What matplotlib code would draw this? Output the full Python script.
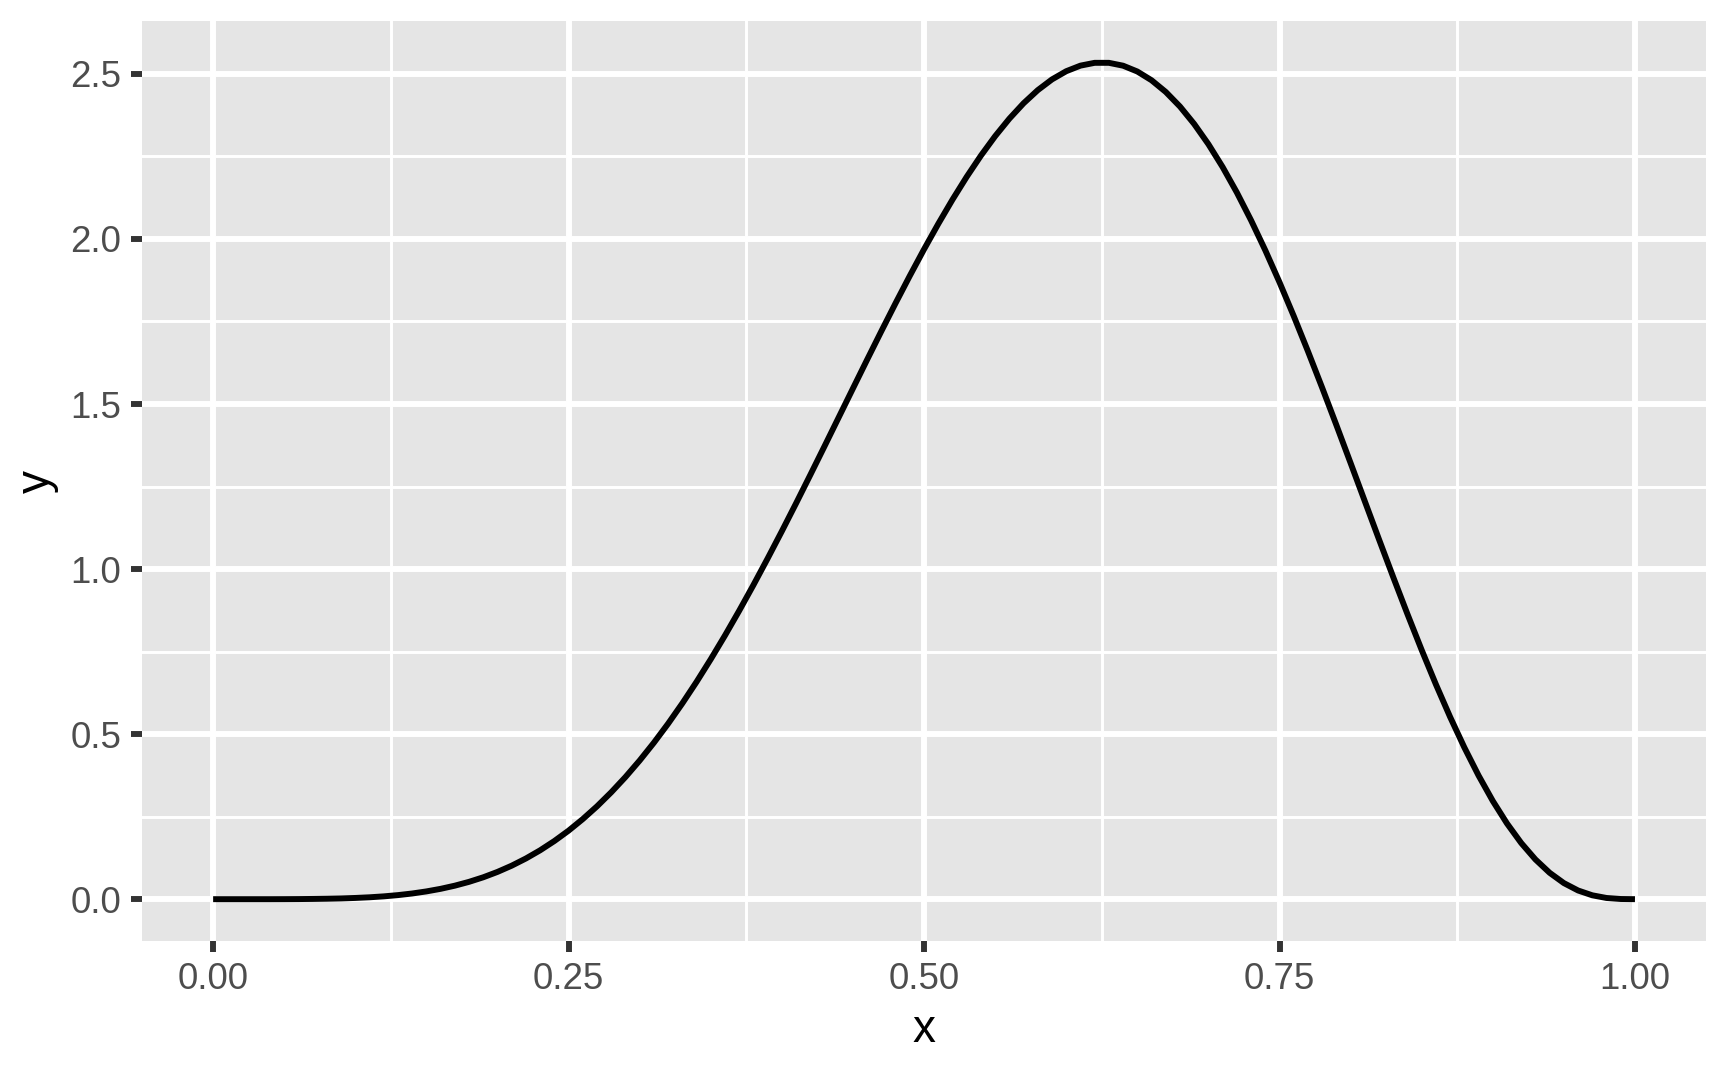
import matplotlib
matplotlib.use("Agg")
import matplotlib.pyplot as plt
from matplotlib.ticker import FixedLocator

x_vals = [round(i * 0.01, 2) for i in range(101)]
y_vals = [0.0000, 0.0000, 0.0000, 0.0000, 0.0000, 0.0001, 0.0003, 0.0007, 0.0013, 0.0022,
          0.0037, 0.0057, 0.0085, 0.0123, 0.0172, 0.0235, 0.0313, 0.0409, 0.0525, 0.0663,
          0.0826, 0.1015, 0.1233, 0.1481, 0.1762, 0.2076, 0.2427, 0.2813, 0.3238, 0.3700,
          0.4201, 0.4740, 0.5317, 0.5932, 0.6583, 0.7270, 0.7989, 0.8739, 0.9517, 1.0322,
          1.1148, 1.1992, 1.2852, 1.3721, 1.4597, 1.5473, 1.6346, 1.7209, 1.8057, 1.8885,
          1.9688, 2.0458, 2.1192, 2.1883, 2.2525, 2.3114, 2.3644, 2.4111, 2.4509, 2.4834,
          2.5082, 2.5251, 2.5336, 2.5336, 2.5249, 2.5073, 2.4808, 2.4454, 2.4012, 2.3483,
          2.2871, 2.2178, 2.1408, 2.0565, 1.9657, 1.8688, 1.7666, 1.6598, 1.5494, 1.4362,
          1.3212, 1.2054, 1.0897, 0.9754, 0.8634, 0.7547, 0.6506, 0.5519, 0.4596, 0.3746,
          0.2976, 0.2293, 0.1701, 0.1203, 0.0799, 0.0487, 0.0263, 0.0117, 0.0036, 0.0005,
          0.0000]

x_ticks = [0.00, 0.25, 0.50, 0.75, 1.00]
x_tick_labels = ["0.00", "0.25", "0.50", "0.75", "1.00"]
x_minor = [0.125, 0.375, 0.625, 0.875]
y_ticks = [0.0, 0.5, 1.0, 1.5, 2.0, 2.5]
y_tick_labels = ["0.0", "0.5", "1.0", "1.5", "2.0", "2.5"]
y_minor = [0.25, 0.75, 1.25, 1.75, 2.25]

plt.rcParams['font.family'] = ['Liberation Sans', 'DejaVu Sans']

fig = plt.figure(figsize=(5.76, 3.5567), dpi=300)
ax = fig.add_axes([0.0822, 0.1181, 0.9873 - 0.0822, 0.9803 - 0.1181])
ax.set_facecolor('#E5E5E5')

lw = 0.5 * 72.27 / 25.4
for xm in x_minor:
    ax.axvline(xm, color='white', lw=lw / 2, zorder=1)
for ym in y_minor:
    ax.axhline(ym, color='white', lw=lw / 2, zorder=1)
for xt in x_ticks:
    ax.axvline(xt, color='white', lw=lw, zorder=1)
for yt in y_ticks:
    ax.axhline(yt, color='white', lw=lw, zorder=1)

ax.plot(x_vals, y_vals, color='black', lw=lw, zorder=3, solid_capstyle='butt')

ymax = max(y_vals)
xr = max(x_vals) - min(x_vals)
ax.set_xlim(min(x_vals) - 0.05 * xr, max(x_vals) + 0.05 * xr)
ax.set_ylim(0 - 0.05 * ymax, ymax + 0.05 * ymax)

ax.xaxis.set_major_locator(FixedLocator(x_ticks))
ax.set_xticklabels(x_tick_labels)
ax.yaxis.set_major_locator(FixedLocator(y_ticks))
ax.set_yticklabels(y_tick_labels)
ax.tick_params(axis='both', length=2.75, width=lw, color='#333333',
               labelcolor='#4D4D4D', labelsize=8.8, pad=2.2)
for s in ax.spines.values():
    s.set_visible(False)

ax.set_xlabel('x', fontsize=11, color='black', labelpad=2.75)
ax.set_ylabel('y', fontsize=11, color='black', labelpad=2.75)

fig.savefig('out.png', dpi=300)
